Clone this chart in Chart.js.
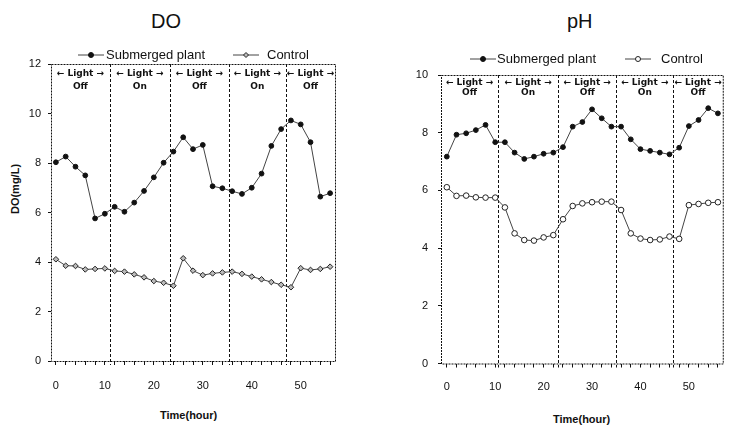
<!DOCTYPE html>
<html>
<head>
<meta charset="utf-8">
<script src="https://cdn.jsdelivr.net/npm/chart.js@4.4.1/dist/chart.umd.min.js"></script>
<style>
  body { margin: 0; width: 731px; height: 429px; position: relative; overflow: hidden; background: #fff;
         font-family: 'Liberation Sans', Arial, sans-serif; color: #111; }
  canvas { position: absolute; top: 0; }
  .title { position: absolute; top: 10px; font-size: 20px; }
  .axis { position: absolute; font-size: 11px; font-weight: bold; white-space: nowrap; }
</style>
</head>
<body>
<div class="title" style="left:151px">DO</div>
<div class="title" style="left:567px">pH</div>
<div class="axis" style="left:160px;top:409px">Time(hour)</div>
<div class="axis" style="left:553px;top:413px">Time(hour)</div>
<div class="axis" style="left:-10px;top:183px;transform:rotate(-90deg)">DO(mg/L)</div>
<canvas id="doChart" width="365" height="429" style="left:0"></canvas>
<canvas id="phChart" width="366" height="429" style="left:365px"></canvas>
<script>
const hours = [0, 2, 4, 6, 8, 10, 12, 14, 16, 18, 20, 22, 24, 26, 28, 30, 32, 34, 36, 38, 40, 42, 44, 46, 48, 50, 52, 54, 56];
const xTickLabels = [0, 10, 20, 30, 40, 50];
const seriesNames = ['Submerged plant', 'Control'];
const lightPeriods = ['Off', 'On', 'Off', 'On', 'Off'];

const doSubmerged = [8.03, 8.26, 7.85, 7.50, 5.76, 5.95, 6.23, 6.03, 6.40, 6.87, 7.42, 8.01, 8.46, 9.04, 8.56,
  8.73, 7.06, 6.98, 6.86, 6.75, 7.00, 7.57, 8.69, 9.37, 9.72, 9.56, 8.84, 6.64, 6.78];
const doControl = [4.11, 3.85, 3.84, 3.70, 3.72, 3.74, 3.64, 3.61, 3.50, 3.38, 3.23, 3.16, 3.04, 4.15, 3.65,
  3.47, 3.54, 3.58, 3.61, 3.52, 3.41, 3.30, 3.19, 3.08, 2.98, 3.75, 3.68, 3.72, 3.81];
const doSwitchHours = [11, 23.3, 35.3, 47];

const phSubmerged = [7.17, 7.93, 7.98, 8.09, 8.27, 7.67, 7.67, 7.31, 7.09, 7.17, 7.27, 7.31, 7.50, 8.21, 8.37,
  8.81, 8.50, 8.21, 8.21, 7.77, 7.43, 7.37, 7.31, 7.25, 7.48, 8.23, 8.44, 8.85, 8.67];
const phControl = [6.11, 5.81, 5.82, 5.76, 5.75, 5.75, 5.41, 4.51, 4.28, 4.26, 4.37, 4.45, 5.00, 5.46, 5.55,
  5.59, 5.61, 5.61, 5.32, 4.51, 4.33, 4.28, 4.30, 4.40, 4.32, 5.49, 5.53, 5.57, 5.59];
const phSwitchHours = [10.6, 23, 35, 46.8];

const ink = '#111';

// frame, light on/off separators, labels and legend
const decorations = {
  id: 'decorations',
  beforeDatasetsDraw(chart, args, opts) {
    const { ctx, chartArea: a, scales: { x } } = chart;
    ctx.save();
    ctx.strokeStyle = ink;
    ctx.lineWidth = 1;
    ctx.setLineDash([2, 1]);
    ctx.strokeRect(a.left + 0.5, a.top + 0.5, a.right - a.left, a.bottom - a.top);
    ctx.setLineDash([3, 2]);
    opts.switches.forEach(h => {
      const px = Math.round(x.getPixelForValue(h)) + 0.5;
      ctx.beginPath();
      ctx.moveTo(px, a.top);
      ctx.lineTo(px, a.bottom + 4);
      ctx.stroke();
    });
    ctx.setLineDash([]);
    const edges = [x.min, ...opts.switches, x.max];
    ctx.fillStyle = ink;
    ctx.textAlign = 'center';
    ctx.textBaseline = 'middle';
    ctx.font = 'bold 9px "DejaVu Sans", sans-serif';
    lightPeriods.forEach((p, i) => {
      const cx = (x.getPixelForValue(edges[i]) + x.getPixelForValue(edges[i + 1])) / 2;
      ctx.fillText('\u2190 Light \u2192', cx, a.top + opts.line1);
      ctx.fillText(p, cx, a.top + opts.line2);
    });
    ctx.restore();
  },
  afterDraw(chart, args, opts) {
    const { ctx } = chart;
    ctx.save();
    ctx.font = '13px "Liberation Sans", Arial, sans-serif';
    ctx.textBaseline = 'middle';
    ctx.textAlign = 'left';
    chart.data.datasets.forEach((ds, i) => {
      const it = opts.legend[i];
      ctx.strokeStyle = ds.borderColor;
      ctx.lineWidth = 1;
      ctx.beginPath();
      ctx.moveTo(it.x, opts.legendY);
      ctx.lineTo(it.x + 26, opts.legendY);
      ctx.stroke();
      ctx.fillStyle = ds.pointBackgroundColor;
      ctx.strokeStyle = ds.pointBorderColor;
      Chart.helpers.drawPoint(ctx, { pointStyle: ds.pointStyle, radius: 2.5, rotation: 0, borderWidth: 1 },
        it.x + 13, opts.legendY);
      ctx.fillStyle = ink;
      ctx.fillText(ds.label, it.x + it.gap, opts.legendY);
    });
    ctx.restore();
  }
};

function buildChart(id, submerged, control, cfg) {
  return new Chart(document.getElementById(id), {
    type: 'line',
    data: {
      datasets: [
        {
          label: seriesNames[0],
          data: hours.map((h, i) => ({ x: h, y: submerged[i] })),
          borderColor: '#444',
          borderWidth: 1,
          pointStyle: 'circle',
          pointRadius: 2.4,
          pointBackgroundColor: '#111',
          pointBorderColor: '#111',
          pointBorderWidth: 1
        },
        {
          label: seriesNames[1],
          data: hours.map((h, i) => ({ x: h, y: control[i] })),
          borderColor: '#444',
          borderWidth: 1,
          pointStyle: cfg.controlStyle,
          pointRadius: 2.8,
          pointBackgroundColor: cfg.controlFill,
          pointBorderColor: '#222',
          pointBorderWidth: 1
        }
      ]
    },
    options: {
      responsive: false,
      animation: false,
      layout: { padding: { top: cfg.top, right: cfg.right, left: 0, bottom: 0 } },
      plugins: {
        legend: { display: false },
        tooltip: { enabled: false },
        decorations: {
          switches: cfg.switches, line1: cfg.line1, line2: cfg.line2,
          legendY: cfg.legendY, legend: cfg.legend
        }
      },
      scales: {
        x: {
          type: 'linear',
          min: cfg.xMin,
          max: 57,
          afterBuildTicks: s => { s.ticks = hours.map(v => ({ value: v })); },
          afterFit: s => { s.height = cfg.xHeight; },
          ticks: {
            autoSkip: false,
            maxRotation: 0,
            padding: cfg.xPad,
            color: ink,
            font: { size: 11, family: '"Liberation Sans", Arial, sans-serif' },
            callback: v => (xTickLabels.includes(v) ? String(v) : '')
          },
          grid: { drawOnChartArea: false, tickLength: 4, color: ink },
          border: { display: false }
        },
        y: {
          min: 0,
          max: cfg.yMax,
          afterFit: s => { s.width = cfg.yWidth; },
          ticks: {
            stepSize: 2,
            padding: cfg.yPad,
            color: ink,
            font: { size: 11, family: '"Liberation Sans", Arial, sans-serif' }
          },
          grid: { drawOnChartArea: false, tickLength: 3, color: ink },
          border: { display: false }
        }
      }
    },
    plugins: [decorations]
  });
}

buildChart('doChart', doSubmerged, doControl, {
  top: 64, right: 30, yWidth: 51, xHeight: 68, xMin: -1, yMax: 12,
  xPad: 14, yPad: 7, controlStyle: 'rectRot', controlFill: '#bbb',
  switches: doSwitchHours, line1: 10, line2: 23,
  legendY: 55, legend: [{ x: 78, gap: 28 }, { x: 233, gap: 34 }]
});

buildChart('phChart', phSubmerged, phControl, {
  top: 75, right: 2, yWidth: 76, xHeight: 65.5, xMin: -1.2, yMax: 10,
  xPad: 13, yPad: 10, controlStyle: 'circle', controlFill: '#fff',
  switches: phSwitchHours, line1: 8, line2: 18,
  legendY: 59, legend: [{ x: 105, gap: 27 }, { x: 260, gap: 36 }]
});
</script>
</body>
</html>
